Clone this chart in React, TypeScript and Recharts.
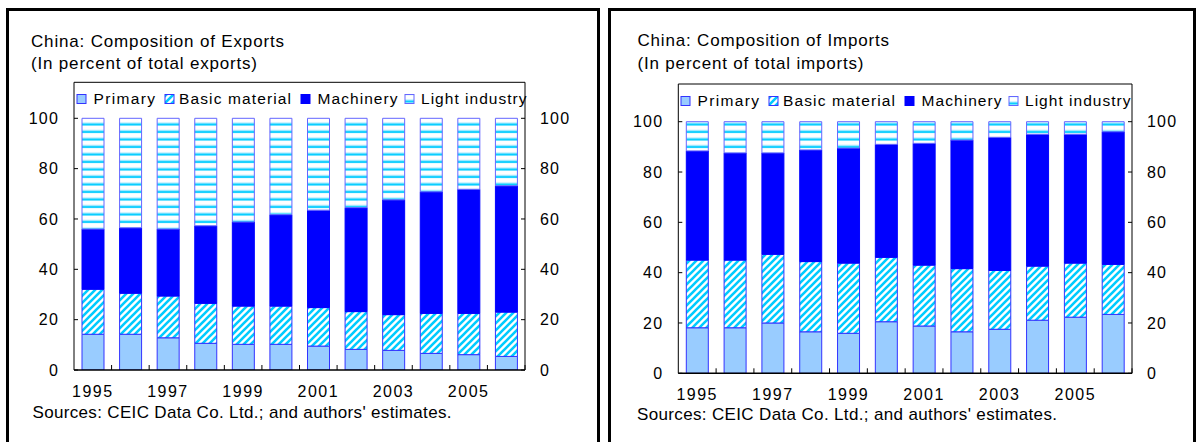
import React from 'react';
import { BarChart, Bar, XAxis, YAxis, Legend, ReferenceLine } from 'recharts';

// categories
const years = ['1995', '1996', '1997', '1998', '1999', '2000', '2001', '2002', '2003', '2004', '2005', '2006'];
const seriesNames = ['Primary', 'Basic material', 'Machinery', 'Light industry'];
const yTicks = [0, 20, 40, 60, 80, 100];

// exports, percent of total
const expPrimary = [14.2, 14.2, 12.8, 10.6, 10.2, 10.2, 9.5, 8.2, 7.8, 6.6, 6.1, 5.4];
const expBasic = [17.9, 16.3, 16.6, 15.9, 15.2, 15.2, 15.3, 15.0, 14.2, 15.9, 16.4, 17.6];
const expMachinery = [23.9, 26.0, 26.6, 30.8, 33.4, 36.3, 38.7, 41.3, 45.6, 48.3, 49.3, 50.2];
const expLight = [44.0, 43.5, 44.0, 42.7, 41.2, 38.3, 36.5, 35.5, 32.4, 29.2, 28.2, 26.8];

// imports, percent of total
const impPrimary = [18.1, 18.1, 20.0, 16.5, 15.9, 20.5, 18.8, 16.5, 17.5, 21.1, 22.3, 23.4];
const impBasic = [26.9, 26.9, 27.3, 27.9, 27.9, 25.6, 24.2, 25.1, 23.4, 21.5, 21.5, 19.9];
const impMachinery = [43.4, 42.6, 40.3, 44.4, 45.7, 44.9, 48.4, 51.1, 52.9, 52.4, 51.2, 52.7];
const impLight = [11.6, 12.4, 12.4, 11.2, 10.5, 9.0, 8.6, 7.3, 6.2, 5.0, 5.0, 4.0];

const FONT = "'Liberation Sans', Arial, sans-serif";
const BLUE = '#0000FF';
const CYAN = '#00CCFF';

const buildRows = (a: number[], b: number[], c: number[], d: number[]) =>
  years.map((year, i) => ({
    year,
    [seriesNames[0]]: a[i],
    [seriesNames[1]]: b[i],
    [seriesNames[2]]: c[i],
    [seriesNames[3]]: d[i],
  }));

const exportRows = buildRows(expPrimary, expBasic, expMachinery, expLight);
const importRows = buildRows(impPrimary, impBasic, impMachinery, impLight);

interface PanelLayout {
  chartLeft: number;
  width: number;
  axisL: number;
  axisR: number;
  plotTop: number;
  zeroY: number;
  hundredY: number;
}

const Y_W = 40;
const X_H = 30;
const H = 442;

const Panel: React.FC<{ id: string; rows: any[]; lay: PanelLayout }> = ({ id, rows, lay }) => {
  const yMax = (100 * (lay.zeroY - lay.plotTop)) / (lay.zeroY - lay.hundredY);
  const bw = (lay.axisR - lay.axisL) / years.length;
  const fills = [
    { fill: '#99CCFF', stroke: '#3333FF' },
    { fill: `url(#${id}-diag)`, stroke: '#3333FF' },
    { fill: BLUE, stroke: BLUE },
    { fill: `url(#${id}-horiz)`, stroke: '#6666FF' },
  ];

  const XTick = (props: any) => {
    const { x, y, index, payload } = props;
    return (
      <g>
        <line x1={x + bw / 2} x2={x + bw / 2} y1={y} y2={y - 5} stroke="#000" />
        {index % 2 === 0 && (
          <text x={x} y={y + 26.7} textAnchor="middle" fontSize={16} letterSpacing={1.5} fill="#000" fontFamily={FONT}>
            {payload.value}
          </text>
        )}
      </g>
    );
  };

  const YTickL = (props: any) => {
    const { x, y, payload } = props;
    return (
      <g>
        <line x1={x} x2={x + 4} y1={y} y2={y} stroke="#000" />
        <text x={x - 15} y={y} dy="0.36em" textAnchor="end" fontSize={16} letterSpacing={1.2} fill="#000" fontFamily={FONT}>
          {payload.value}
        </text>
      </g>
    );
  };

  const YTickR = (props: any) => {
    const { x, y, payload } = props;
    return (
      <g>
        <line x1={x - 4} x2={x} y1={y} y2={y} stroke="#000" />
        <text x={x + 15} y={y} dy="0.36em" textAnchor="start" fontSize={16} letterSpacing={1.2} fill="#000" fontFamily={FONT}>
          {payload.value}
        </text>
      </g>
    );
  };

  // legend item offsets, measured from the left axis
  const markX = [3, 91, 227, 331];
  const textX = [19.5, 105, 243.5, 347];
  const textW = [61.5, 112, 80, 105.5];

  const renderLegend = (props: any) => {
    const payload: any[] = props.payload || [];
    return (
      <svg width={460} height={30} style={{ display: 'block', overflow: 'visible' }}>
        {seriesNames.map((name, i) => {
          const item = payload.find((p) => p.value === name);
          if (!item) return null;
          return (
            <g key={name}>
              <rect x={markX[i]} y={12.5} width={9} height={9} fill={fills[i].fill} stroke={fills[i].stroke} />
              <text
                x={textX[i]}
                y={21.5}
                fontSize={15.5}
                fontFamily={FONT}
                fill="#000"
                textLength={textW[i]}
                lengthAdjust="spacing"
              >
                {item.value}
              </text>
            </g>
          );
        })}
      </svg>
    );
  };

  return (
    <div style={{ position: 'absolute', left: lay.chartLeft, top: 0 }}>
      <BarChart
        width={lay.width}
        height={H}
        data={rows}
        margin={{
          top: lay.plotTop,
          bottom: H - lay.zeroY - X_H,
          left: lay.axisL - lay.chartLeft - Y_W,
          right: lay.chartLeft + lay.width - lay.axisR - Y_W,
        }}
        barSize={22}
      >
        <defs>
          <pattern id={`${id}-diag`} width={7} height={7} patternUnits="userSpaceOnUse">
            <rect width={7} height={7} fill="#fff" />
            <path d="M-1,8 L8,-1 M-1,1 L1,-1 M6,8 L8,6" stroke={CYAN} strokeWidth={2.6} />
          </pattern>
          <pattern id={`${id}-horiz`} width={8} height={7.5} patternUnits="userSpaceOnUse">
            <rect width={8} height={7.5} fill="#fff" />
            <rect y={2.5} width={8} height={1} fill="#99E6FF" />
            <rect y={3.5} width={8} height={2} fill={CYAN} />
          </pattern>
        </defs>
        <XAxis
          dataKey="year"
          interval={0}
          height={X_H}
          tickSize={0}
          tickMargin={0}
          tickLine={false}
          axisLine={{ stroke: '#000', strokeWidth: 1.5 }}
          tick={<XTick />}
        />
        <YAxis
          domain={[0, yMax]}
          ticks={yTicks}
          width={Y_W}
          tickSize={0}
          tickMargin={0}
          tickLine={false}
          axisLine={{ stroke: '#000' }}
          tick={<YTickL />}
          allowDataOverflow
        />
        <YAxis
          yAxisId="r"
          orientation="right"
          domain={[0, yMax]}
          ticks={yTicks}
          width={Y_W}
          tickSize={0}
          tickMargin={0}
          tickLine={false}
          axisLine={{ stroke: '#000' }}
          tick={<YTickR />}
          allowDataOverflow
        />
        <ReferenceLine y={yMax} stroke="#000" />
        <Legend
          layout="horizontal"
          verticalAlign="middle"
          align="center"
          content={renderLegend}
          wrapperStyle={{ left: lay.axisL - lay.chartLeft, top: lay.plotTop, width: 460, height: 30 }}
        />
        {seriesNames.map((name, i) => (
          <Bar
            key={name}
            dataKey={name}
            name={name}
            stackId="a"
            fill={fills[i].fill}
            stroke={fills[i].stroke}
            strokeWidth={1}
            isAnimationActive={false}
          />
        ))}
      </BarChart>
    </div>
  );
};

const leftLayout: PanelLayout = { chartLeft: 0, width: 600, axisL: 74, axisR: 525, plotTop: 82.3, zeroY: 370, hundredY: 118.3 };
const rightLayout: PanelLayout = { chartLeft: 600, width: 590, axisL: 678.3, axisR: 1132, plotTop: 84, zeroY: 373.3, hundredY: 121.7 };

const Caption: React.FC<{ x: number; y: number; w: number; size: number; children: React.ReactNode }> = ({ x, y, w, size, children }) => (
  <text x={x} y={y} fontSize={size} fontFamily={FONT} fill="#000" textLength={w} lengthAdjust="spacing">
    {children}
  </text>
);

export default function App() {
  return (
    <div style={{ position: 'absolute', left: 0, top: 0, width: 1199, height: 442, background: '#fff', overflow: 'hidden' }}>
      <div style={{ position: 'absolute', left: 6, top: 8, width: 594, height: 460, border: '3px solid #000', boxSizing: 'border-box' }} />
      <div style={{ position: 'absolute', left: 608, top: 8, width: 588, height: 460, border: '3px solid #000', boxSizing: 'border-box' }} />
      <Panel id="exp" rows={exportRows} lay={leftLayout} />
      <Panel id="imp" rows={importRows} lay={rightLayout} />
      <svg width={1199} height={442} style={{ position: 'absolute', left: 0, top: 0, pointerEvents: 'none' }}>
        <Caption x={31} y={46.5} w={253} size={17}>China: Composition of Exports</Caption>
        <Caption x={31} y={68.5} w={226} size={17}>(In percent of total exports)</Caption>
        <Caption x={32.5} y={418.3} w={419} size={17}>Sources: CEIC Data Co. Ltd.; and authors' estimates.</Caption>
        <Caption x={637.5} y={46} w={251.5} size={17}>China: Composition of Imports</Caption>
        <Caption x={637.5} y={68.5} w={226} size={17}>(In percent of total imports)</Caption>
        <Caption x={637} y={420} w={420} size={17}>Sources: CEIC Data Co. Ltd.; and authors' estimates.</Caption>
      </svg>
    </div>
  );
}
